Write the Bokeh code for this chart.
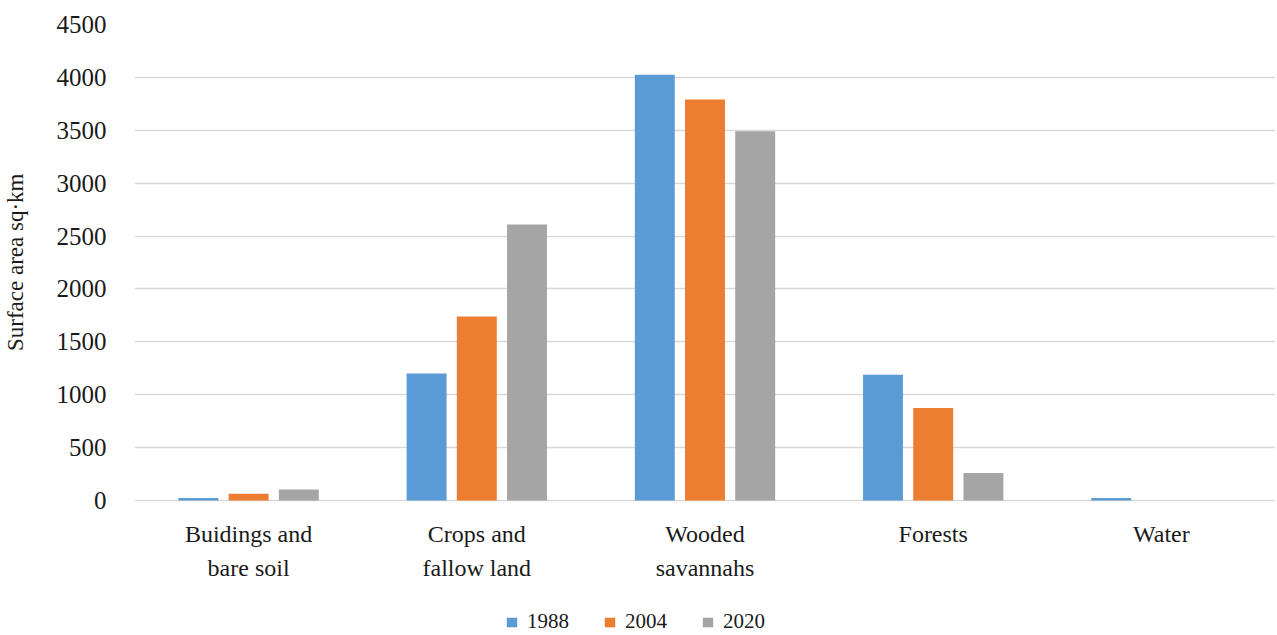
from bokeh.plotting import figure
from bokeh.models import (ColumnDataSource, FactorRange, Range1d, FixedTicker,
                          Legend, LegendItem, Title)
from bokeh.core.properties import value
from bokeh.transform import dodge
from bokeh.embed import file_html
from bokeh.resources import INLINE

# Land-cover classes and their two-line category labels
categories = ["Buidings and bare soil", "Crops and fallow land",
              "Wooded savannahs", "Forests", "Water"]
label_line1 = ["Buidings and", "Crops and", "Wooded", "Forests", "Water"]
label_line2 = ["bare soil", "fallow land", "savannahs", "", ""]
years = ["1988", "2004", "2020"]
area_1988 = [25, 1200, 4025, 1190, 25]
area_2004 = [65, 1740, 3790, 875, 0]
area_2020 = [105, 2610, 3490, 260, 0]
y_ticks = [0, 500, 1000, 1500, 2000, 2500, 3000, 3500, 4000, 4500]

colors = ["#5B9BD5", "#ED7D31", "#A5A5A5"]
FONT = "Liberation Serif"
TEXT = "#1a1a1a"
GRID = "#d9d9d9"

source = ColumnDataSource(data=dict(cat=categories, y1988=area_1988,
                                    y2004=area_2004, y2020=area_2020,
                                    line1=label_line1, line2=label_line2))

# The plotting area runs down to the bottom edge so that the category
# labels and the legend can sit beneath the zero line.
p = figure(width=1277, height=635, output_backend="svg", toolbar_location=None,
           x_range=FactorRange(factors=categories, range_padding=0),
           y_range=Range1d(-1276, 4500),
           min_border_left=134, min_border_right=2,
           min_border_top=24, min_border_bottom=0)
p.outline_line_color = None
p.background_fill_color = "white"
p.border_fill_color = "white"

offsets = [-0.22, 0.0, 0.22]
renderers = []
for yr, off, col in zip(years, offsets, colors):
    r = p.vbar(x=dodge("cat", off, range=p.x_range), top="y" + yr, bottom=0,
               width=0.175, source=source, fill_color=col, line_color=None)
    renderers.append(r)

# Category labels, two lines under each group
label_style = dict(text_font=value(FONT), text_font_size="24px",
                   text_color=TEXT, text_align="center",
                   text_baseline="middle", source=source)
p.text(x="cat", y=0, text="line1", y_offset=33, **label_style)
p.text(x="cat", y=0, text="line2", y_offset=67, **label_style)

# Value axis; a blank, tiny axis label just adds a gap before the title
p.xaxis.visible = False
p.yaxis.ticker = FixedTicker(ticks=y_ticks)
p.yaxis.axis_line_color = None
p.yaxis.major_tick_line_color = None
p.yaxis.minor_tick_line_color = None
p.yaxis.major_label_standoff = 22
p.yaxis.major_label_text_font = FONT
p.yaxis.major_label_text_font_size = "25px"
p.yaxis.major_label_text_color = TEXT
p.yaxis.axis_label = " "
p.yaxis.axis_label_text_font_size = "1px"
p.yaxis.axis_label_standoff = 22

# Axis title, kept level with the 0-4500 value span
p.add_layout(Title(text="Surface area sq·km", align="right", offset=149,
                   text_font=FONT, text_font_size="23px",
                   text_font_style="normal", text_color=TEXT,
                   standoff=0), "left")

p.xgrid.grid_line_color = None
p.ygrid.grid_line_color = GRID
p.ygrid.grid_line_width = 1.5

legend = Legend(items=[LegendItem(label=yr, renderers=[r])
                       for yr, r in zip(years, renderers)],
                orientation="horizontal", location=(371, 1),
                glyph_width=13, glyph_height=12, label_standoff=9, spacing=34,
                padding=0, margin=0, border_line_color=None,
                background_fill_alpha=0,
                label_text_font=FONT, label_text_font_size="21px",
                label_text_color=TEXT)
p.add_layout(legend, "center")

open("out.html", "w").write(file_html(p, INLINE))
